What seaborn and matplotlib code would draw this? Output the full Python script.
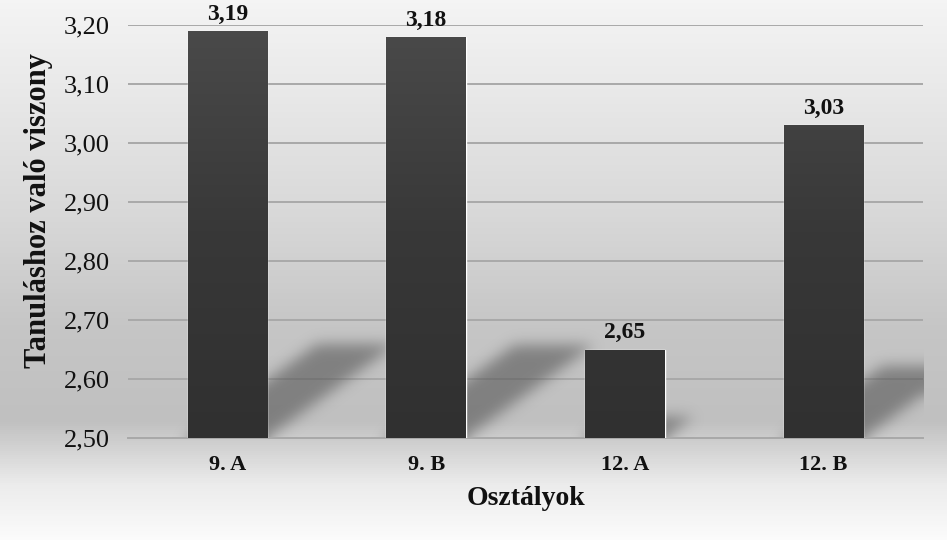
import numpy as np
import pandas as pd
import matplotlib
matplotlib.use("Agg")
import matplotlib.pyplot as plt
from matplotlib.colors import LinearSegmentedColormap
from matplotlib.ticker import FuncFormatter
import seaborn as sns

categories = ["9. A", "9. B", "12. A", "12. B"]
values = [3.19, 3.18, 2.65, 3.03]
y_ticks = [2.50, 2.60, 2.70, 2.80, 2.90, 3.00, 3.10, 3.20]
y_label = "Tanuláshoz való viszony"
x_label = "Osztályok"

sns.set_theme(style="white")
plt.rcParams["font.family"] = ["Liberation Serif", "DejaVu Serif"]

df = pd.DataFrame({"cat": categories, "val": values})

fig = plt.figure(figsize=(9.47, 5.40), dpi=100)

# background gradient (figure-wide)
bg = fig.add_axes([0, 0, 1, 1], zorder=-10)
bg.axis("off")
stops = [(0.0, "#fbfbfb"), (0.10, "#ececec"), (0.17, "#d2d2d2"), (0.22, "#c0c0c0"),
         (0.40, "#c6c6c6"), (0.60, "#d8d8d8"), (0.85, "#eaeaea"), (1.0, "#f4f4f4")]
cmap_bg = LinearSegmentedColormap.from_list("bg", stops)
grad = np.linspace(0, 1, 540).reshape(-1, 1)
bg.imshow(grad, aspect="auto", cmap=cmap_bg, extent=[0, 1, 0, 1], origin="lower")
bg.set_xlim(0, 1); bg.set_ylim(0, 1)

ax = fig.add_axes([128/947, 1-438/540, (923-128)/947, (438-25)/540])
ax.patch.set_alpha(0)

sns.barplot(data=df, x="cat", y="val", ax=ax, color="#3a3a3a", width=0.4,
            saturation=1, zorder=3)

ymin, ymax = 2.5, 3.2
ax.set_xlim(-0.5, len(categories) - 0.5)
ax.set_ylim(ymin, ymax)
ax.set_yticks(y_ticks)
ax.yaxis.set_major_formatter(FuncFormatter(lambda v, p: f"{v:.2f}".replace(".", ",")))
ax.grid(axis="y", color="#a9a9a9", linewidth=1.4, zorder=0)
ax.set_axisbelow(True)
for s in ["top", "right", "left"]:
    ax.spines[s].set_visible(False)
ax.spines["bottom"].set_color("#a9a9a9")
ax.spines["bottom"].set_linewidth(1.4)
ax.tick_params(axis="y", labelsize=19, pad=13, length=0, colors="#111111")
ax.tick_params(axis="x", labelsize=16, pad=12, length=0, colors="#111111")
for lab in ax.get_xticklabels():
    lab.set_fontweight("bold")

# blurred perspective shadows behind the bars (derived from bar heights)
nx, ny = 800, 413
xs = np.linspace(-0.5, len(categories) - 0.5, nx)
ys = np.linspace(ymin, ymax, ny)
XX, YY = np.meshgrid(xs, ys)
mask = np.zeros_like(XX)
for patch in ax.patches:
    xL = patch.get_x(); w = patch.get_width(); h = patch.get_height() - ymin
    hs = 0.23 * h
    dx = 0.94 * h
    t = (YY - ymin) / hs
    xs0 = XX - t * dx
    inside = (t >= 0) & (t <= 1) & (xs0 >= xL) & (xs0 <= xL + w)
    mask = np.maximum(mask, inside.astype(float))
sig = 7.0
k = np.exp(-0.5 * (np.arange(-21, 22) / sig) ** 2); k /= k.sum()
pad = 25
mpad = np.pad(mask, pad, mode="edge")
mpad = np.apply_along_axis(lambda r: np.convolve(r, k, mode="same"), 1, mpad)
mpad = np.apply_along_axis(lambda c: np.convolve(c, k, mode="same"), 0, mpad)
mask = mpad[pad:-pad, pad:-pad]
rgba = np.zeros((ny, nx, 4))
rgba[..., :3] = 0.33
rgba[..., 3] = mask * 0.6
ax.imshow(rgba, extent=[xs[0], xs[-1], ymin, ymax], origin="lower", aspect="auto",
          zorder=2, interpolation="bilinear")

# gradient fill on bars
cmap_bar = LinearSegmentedColormap.from_list("bar", ["#303030", "#383838", "#4a4a4a"])
for patch in ax.patches:
    x0 = patch.get_x(); w = patch.get_width()
    im = ax.imshow(np.linspace(0, 1, 256).reshape(-1, 1), cmap=cmap_bar, aspect="auto",
                   extent=[x0, x0 + w, ymin, ymax], origin="lower", zorder=3.5)
    im.set_clip_path(patch)
ax.set_xlim(-0.5, len(categories) - 0.5)
ax.set_ylim(ymin, ymax)

for i, v in enumerate(values):
    ax.annotate(f"{v:.2f}".replace(".", ","), xy=(i, v), xytext=(0, 4.5),
                textcoords="offset points", ha="center", va="bottom",
                fontsize=17, fontweight="bold", color="#111111",
                annotation_clip=False, zorder=5)

ax.set_xlabel(x_label, fontsize=20, fontweight="bold", color="#111111", labelpad=8)
ax.set_ylabel(y_label, fontsize=22, fontweight="bold", color="#111111")
ax.yaxis.set_label_coords(-0.094, 0.55)

fig.savefig("out.png", dpi=100)
